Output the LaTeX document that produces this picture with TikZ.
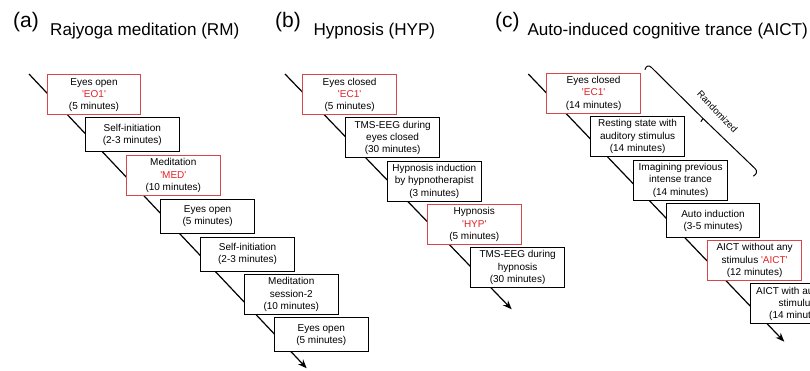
\documentclass[tikz,border=0pt]{standalone}
\usepackage{fontspec}
\setmainfont{Liberation Sans}[Ligatures=TeXOff]
\usetikzlibrary{arrows.meta}
\definecolor{boxred}{RGB}{215,70,75}
\definecolor{txtred}{RGB}{225,35,40}
\begin{document}
\begin{tikzpicture}[x=1pt,y=-1pt,
  stepbox/.style={draw=black, fill=white, line width=1.1pt, rectangle, anchor=north west,
    minimum width=93.5pt, inner sep=0pt, align=center, font=\fontsize{10}{12.2}\selectfont},
  three/.style={minimum height=40pt},
  two/.style={minimum height=34pt},
  redbox/.style={draw=boxred},
  timeline/.style={line width=1.2pt, -{Stealth[length=9pt,width=7pt]}},
  panel/.style={anchor=base west, font=\fontsize{21}{24}\selectfont, inner sep=0pt},
  ptitle/.style={anchor=base west, font=\fontsize{17.1}{20}\selectfont, inner sep=0pt},
  bracestyle/.style={line width=1pt, line cap=round, line join=round}]
\useasboundingbox (0,0) rectangle (810,370);
\clip (0,0) rectangle (810,370);

% titles
\node[panel] (pa) at (13,27) {(a)};
\node[ptitle] (ta) at (50,35) {Rajyoga meditation (RM)};
\node[panel] (pb) at (275,27) {(b)};
\node[ptitle] (tb) at (313.3,35) {Hypnosis (HYP)};
\node[panel] (pc) at (495,27) {(c)};
\node[ptitle] (tc) at (527.3,35) {Auto-induced cognitive trance (AICT)};

% time lines
\coordinate (a0) at (29,74);
\coordinate (a1) at (306.7,368.3);
\coordinate (b0) at (285,74);
\coordinate (b1) at (511.7,309.3);
\coordinate (c0) at (528.3,74);
\coordinate (c1) at (784.3,341.7);
\draw[timeline] (a0) -- (a1);
\draw[timeline] (b0) -- (b1);
\draw[timeline] (c0) -- (c1);

% panel (a)
\node[stepbox,three,redbox] (a-eo1) at (46.7,74.3) {Eyes open\\\textcolor{txtred}{'EO1'}\\(5 minutes)};
\node[stepbox,two] (a-si1) at (85,117.3) {Self-initiation\\(2-3 minutes)};
\node[stepbox,three,redbox] (a-med) at (126,155) {Meditation\\\textcolor{txtred}{'MED'}\\(10 minutes)};
\node[stepbox,two] (a-eo2) at (160.3,198.7) {Eyes open\\(5 minutes)};
\node[stepbox,two] (a-si2) at (200.3,236.7) {Self-initiation\\(2-3 minutes)};
\node[stepbox,three] (a-med2) at (244,274) {Meditation\\session-2\\(10 minutes)};
\node[stepbox,two] (a-eo3) at (274,317.3) {Eyes open\\(5 minutes)};

% panel (b)
\node[stepbox,three,redbox] (b-ec1) at (302.3,74.3) {Eyes closed\\\textcolor{txtred}{'EC1'}\\(5 minutes)};
\node[stepbox,three] (b-tms1) at (345.3,117.3) {TMS-EEG during\\eyes closed\\(30 minutes)};
\node[stepbox,three] (b-ind) at (387,160.7) {Hypnosis induction\\by hypnotherapist\\(3 minutes)};
\node[stepbox,three,redbox] (b-hyp) at (427,204) {Hypnosis\\\textcolor{txtred}{'HYP'}\\(5 minutes)};
\node[stepbox,three] (b-tms2) at (470.3,247) {TMS-EEG during\\hypnosis\\(30 minutes)};

% panel (c)
\node[stepbox,three,redbox] (c-ec1) at (546.3,72.7) {Eyes closed\\\textcolor{txtred}{'EC1'}\\(14 minutes)};
\node[stepbox,three] (c-rest) at (590.3,116) {Resting state with\\auditory stimulus\\(14 minutes)};
\node[stepbox,three] (c-imag) at (633.3,159.7) {Imagining previous\\intense trance\\(14 minutes)};
\node[stepbox,two] (c-auto) at (665.7,203.3) {Auto induction\\(3-5 minutes)};
\node[stepbox,three,redbox] (c-aict) at (707.3,240) {AICT without any\\stimulus \textcolor{txtred}{'AICT'}\\(12 minutes)};
\node[stepbox,three] (c-aud) at (749.7,283.3) {AICT with auditory\\stimulus\\(14 minutes)};

% randomized brace
\draw[bracestyle] (645,69.5) .. controls (646,65.5) and (649,65) .. (651.5,67.5)
  -- (703,118.5) -- (755,168.5) .. controls (757.5,171) and (757,174) .. (753.5,176);
\draw[bracestyle] (703,118.5) -- (701,121.5);
\node[rotate=-46, font=\fontsize{9.5}{11}\selectfont, inner sep=0pt] (rand) at (717.5,111.7) {Randomized};
\end{tikzpicture}
\end{document}
